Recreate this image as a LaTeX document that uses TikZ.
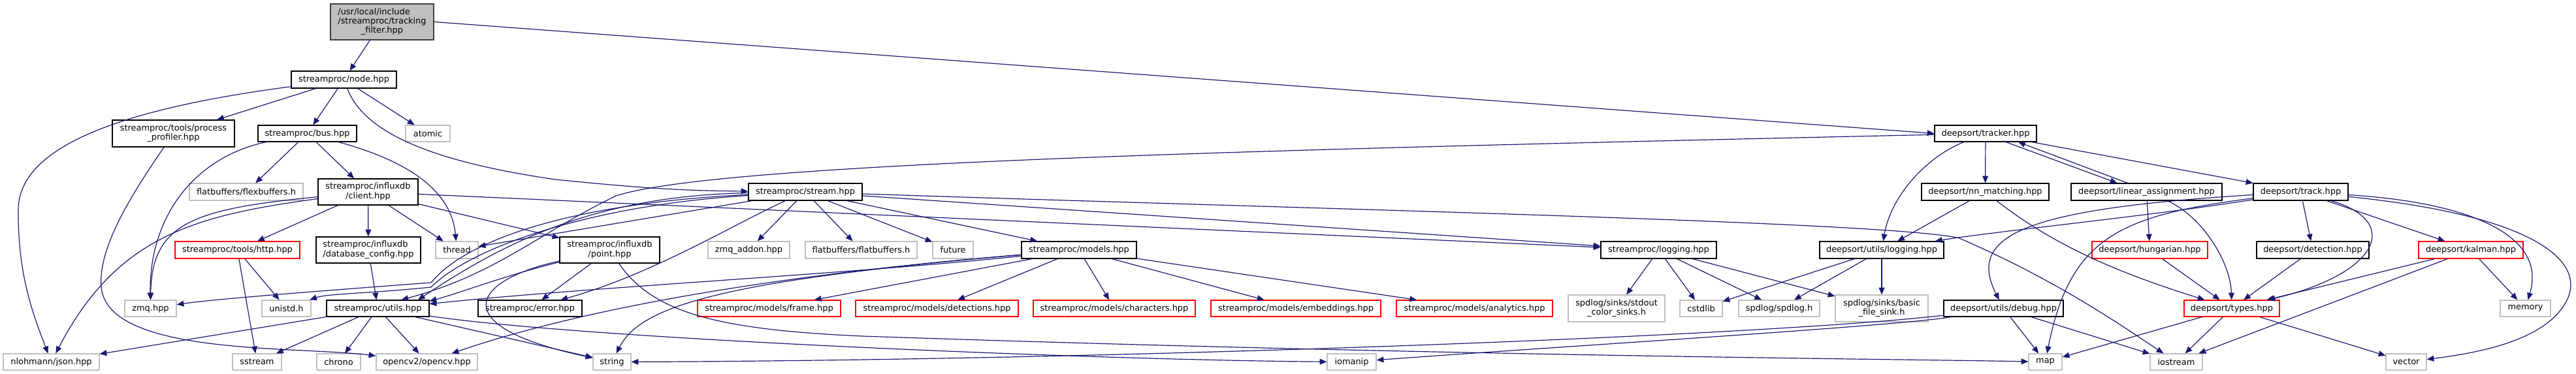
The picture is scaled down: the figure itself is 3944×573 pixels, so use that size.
\documentclass[tikz,border=0pt]{standalone}
\usepackage{fontspec}
\setmainfont{DejaVu Sans}
\usetikzlibrary{arrows.meta,calc}
\definecolor{edgec}{RGB}{25,25,112}
\newcommand\ml[2]{\begin{tabular}{@{}l@{}}#1\\\multicolumn{1}{@{}c@{}}{#2}\end{tabular}}
\newcommand\bx[7]{%
  \pgfmathsetmacro\bxcx{(#2+#4)/2}\pgfmathsetmacro\bxcy{(#3+#5)/2}%
  \pgfmathsetmacro\bxw{#4-#2}\pgfmathsetmacro\bxh{#5-#3}%
  \node[box,#6,minimum width=\bxw*0.25mm,minimum height=\bxh*0.25mm] (#1) at (\bxcx,\bxcy) {#7};}
\begin{document}
\begin{tikzpicture}[x=0.25mm,y=-0.25mm,
  box/.style={font=\fontsize{9.2}{10.2}\selectfont,inner sep=0pt,fill=white,line width=0.8pt},
  dk/.style={draw=black},
  lt/.style={draw=black!25},
  rd/.style={draw=red},
  root/.style={draw=black!75,fill=black!25},
  edge/.style={draw=edgec,line width=0.85pt,-{Triangle[length=2.7mm,width=2.2mm]}}]
\path[use as bounding box] (0,0) rectangle (3944,573);
% nodes
\bx{tf}{506}{6}{664}{61}{root}{\ml{/usr/local/include\\/streamproc/tracking}{\_filter.hpp}}
\bx{node}{446}{109}{607}{135}{dk}{streamproc/node.hpp}
\bx{atomic}{621}{192}{689}{217}{lt}{atomic}
\bx{prof}{172}{184}{359}{225}{dk}{\ml{streamproc/tools/process}{\_profiler.hpp}}
\bx{bus}{395}{192}{546}{217}{dk}{streamproc/bus.hpp}
\bx{flex}{290}{281}{464}{307}{lt}{flatbuffers/flexbuffers.h}
\bx{client}{487}{274}{640}{314}{dk}{\ml{streamproc/influxdb}{/client.hpp}}
\bx{http}{268}{370}{459}{396}{rd}{streamproc/tools/http.hpp}
\bx{dbc}{484}{363}{644}{403}{dk}{\ml{streamproc/influxdb}{/database\_config.hpp}}
\bx{zmq}{191}{460}{270}{485}{lt}{zmq.hpp}
\bx{unistd}{401}{460}{476}{485}{lt}{unistd.h}
\bx{utils}{500}{460}{657}{485}{dk}{streamproc/utils.hpp}
\bx{json}{5}{542}{152}{567}{lt}{nlohmann/json.hpp}
\bx{sstream}{356}{542}{431}{567}{lt}{sstream}
\bx{chrono}{485}{542}{552}{567}{lt}{chrono}
\bx{opencv}{576}{542}{731}{567}{lt}{opencv2/opencv.hpp}
\bx{thread}{667}{370}{732}{396}{lt}{thread}
\bx{point}{857}{363}{1010}{403}{dk}{\ml{streamproc/influxdb}{/point.hpp}}
\bx{error}{732}{460}{891}{485}{dk}{streamproc/error.hpp}
\bx{string}{908}{542}{966}{567}{lt}{string}
\bx{stream}{1146}{281}{1320}{307}{dk}{streamproc/stream.hpp}
\bx{zmqa}{1084}{370}{1209}{396}{lt}{zmq\_addon.hpp}
\bx{flat}{1233}{370}{1404}{396}{lt}{flatbuffers/flatbuffers.h}
\bx{future}{1428}{370}{1490}{396}{lt}{future}
\bx{models}{1564}{370}{1740}{396}{dk}{streamproc/models.hpp}
\bx{frame}{1068}{460}{1287}{485}{rd}{streamproc/models/frame.hpp}
\bx{dets}{1310}{460}{1559}{485}{rd}{streamproc/models/detections.hpp}
\bx{chars}{1582}{460}{1830}{485}{rd}{streamproc/models/characters.hpp}
\bx{embs}{1854}{460}{2114}{485}{rd}{streamproc/models/embeddings.hpp}
\bx{anal}{2138}{460}{2377}{485}{rd}{streamproc/models/analytics.hpp}
\bx{iomanip}{2032}{542}{2107}{567}{lt}{iomanip}
\bx{slog}{2451}{370}{2628}{396}{dk}{streamproc/logging.hpp}
\bx{stdout}{2401}{452}{2549}{493}{lt}{\ml{spdlog/sinks/stdout}{\_color\_sinks.h}}
\bx{cstdlib}{2572}{460}{2637}{485}{lt}{cstdlib}
\bx{tracker}{2962}{192}{3118}{217}{dk}{deepsort/tracker.hpp}
\bx{nn}{2942}{281}{3137}{307}{dk}{deepsort/nn\_matching.hpp}
\bx{la}{3171}{281}{3402}{307}{dk}{deepsort/linear\_assignment.hpp}
\bx{track}{3450}{281}{3595}{307}{dk}{deepsort/track.hpp}
\bx{dlog}{2786}{370}{2976}{396}{dk}{deepsort/utils/logging.hpp}
\bx{spd}{2662}{460}{2786}{485}{lt}{spdlog/spdlog.h}
\bx{bfs}{2810}{452}{2952}{493}{lt}{\ml{spdlog/sinks/basic}{\_file\_sink.h}}
\bx{debug}{2976}{460}{3159}{485}{dk}{deepsort/utils/debug.hpp}
\bx{map}{3106}{542}{3157}{567}{lt}{map}
\bx{hung}{3203}{370}{3380}{396}{rd}{deepsort/hungarian.hpp}
\bx{det}{3455}{370}{3627}{396}{dk}{deepsort/detection.hpp}
\bx{kal}{3703}{370}{3863}{396}{rd}{deepsort/kalman.hpp}
\bx{types}{3344}{460}{3490}{485}{rd}{deepsort/types.hpp}
\bx{memory}{3828}{460}{3905}{485}{lt}{memory}
\bx{iostream}{3292}{542}{3372}{567}{lt}{iostream}
\bx{vector}{3653}{542}{3715}{567}{lt}{vector}
% edges
\draw[edge] (tf) -- (node);
\draw[edge] (tf.east) -- (tracker.west);
\draw[edge] (node) .. controls (200,165) and (30,220) .. (28,320) .. controls (27,420) and (50,480) .. (json);
\draw[edge] (node) -- (prof);
\draw[edge] (node) -- (bus);
\draw[edge] (node) .. controls (560,210) and (680,250) .. (850,275) .. controls (1000,290) and (1050,292) .. (stream);
\draw[edge] (node) -- (atomic);
\draw[edge] (prof) .. controls (200,300) and (150,380) .. (155,440) .. controls (165,545) and (450,530) .. (opencv);
\draw[edge] (bus) .. controls (300,240) and (228,330) .. (zmq);
\draw[edge] (bus) -- (flex);
\draw[edge] (bus) -- (client);
\draw[edge] (bus) .. controls (600,240) and (690,280) .. (thread);
\draw[edge] (client) .. controls (300,330) and (180,360) .. (json);
\draw[edge] (client) .. controls (300,320) and (232,340) .. (zmq);
\draw[edge] (client) -- (http);
\draw[edge] (client) -- (dbc);
\draw[edge] (client) -- (thread);
\draw[edge] (client) -- (point);
\draw[edge] (client) -- (slog);
\draw[edge] (http) -- (sstream);
\draw[edge] (http) -- (unistd);
\draw[edge] (dbc) -- (utils);
\draw[edge] (utils) -- (json);
\draw[edge] (utils) -- (sstream);
\draw[edge] (utils) -- (chrono);
\draw[edge] (utils) -- (opencv);
\draw[edge] (utils) -- (string);
\draw[edge] (utils) .. controls (900,520) and (1700,552) .. (iomanip);
\draw[edge] (point) -- (error);
\draw[edge] (point) .. controls (780,420) and (700,450) .. (utils.8);
\draw[edge] (point) .. controls (720,430) and (680,500) .. (string);
\draw[edge] (point) .. controls (1000,480) and (1100,505) .. (1320,515) .. controls (2200,545) and (2900,550) .. (map);
\draw[edge] (stream) -- (thread);
\draw[edge] (stream) -- (zmqa);
\draw[edge] (stream) -- (flat);
\draw[edge] (stream) -- (future);
\draw[edge] (stream) -- (models);
\draw[edge] (stream) -- (slog);
\draw[edge] (stream) .. controls (1130,340) and (1000,420) .. (error);
\draw[edge] (stream) .. controls (900,300) and (760,380) .. (utils.12);
\draw[edge] (stream) .. controls (900,310) and (720,360) .. (660,433) .. controls (500,445) and (330,458) .. (zmq);
\draw[edge] (stream) .. controls (900,315) and (720,380) .. (660,440) .. controls (560,450) and (500,450) .. (unistd);
\draw[edge] (stream) .. controls (2000,320) and (2900,340) .. (3000,365) .. controls (3150,430) and (3250,500) .. (iostream);
\draw[edge] (tracker) .. controls (1900,230) and (1100,250) .. (943,300) .. controls (820,360) and (760,420) .. (utils.20);
\draw[edge] (models) -- (frame);
\draw[edge] (models) -- (dets);
\draw[edge] (models) -- (chars);
\draw[edge] (models) -- (embs);
\draw[edge] (models) -- (anal);
\draw[edge] (models) .. controls (1300,420) and (900,440) .. (utils.5);
\draw[edge] (models) .. controls (1100,430) and (980,470) .. (string);
\draw[edge] (models) .. controls (1200,420) and (900,470) .. (opencv);
\draw[edge] (slog) -- (stdout);
\draw[edge] (slog) -- (cstdlib);
\draw[edge] (slog) -- (spd);
\draw[edge] (slog) -- (bfs);
\draw[edge] (tracker) .. controls (2950,240) and (2895,300) .. (dlog);
\draw[edge] (tracker) -- (nn);
\draw[edge] ($(tracker.south)+(31,0)$) -- ($(la.north)+(-45,0)$);
\draw[edge] ($(la.north)+(-29,0)$) -- ($(tracker.south)+(50,0)$);
\draw[edge] (tracker) -- (track);
\draw[edge] (nn) -- (dlog);
\draw[edge] (nn) .. controls (3150,380) and (3250,420) .. (types);
\draw[edge] (la) -- (hung);
\draw[edge] (la) .. controls (3370,330) and (3415,400) .. (types);
\draw[edge] (track) -- (det);
\draw[edge] (track) -- (kal);
\draw[edge] (track) .. controls (3680,340) and (3640,420) .. (types);
\draw[edge] (track) .. controls (3780,310) and (3900,360) .. (memory);
\draw[edge] (track) .. controls (3880,330) and (3960,400) .. (3930,460) .. controls (3900,520) and (3800,540) .. (vector);
\draw[edge] (track) .. controls (3300,330) and (3050,355) .. (dlog);
\draw[edge] (track) .. controls (3100,320) and (3010,360) .. (debug);
\draw[edge] (track) .. controls (3250,330) and (3170,360) .. (map);
\draw[edge] (dlog) -- (cstdlib);
\draw[edge] (dlog) -- (spd);
\draw[edge] (dlog) -- (bfs);
\draw[edge] (debug) -- (map);
\draw[edge] (debug) -- (iostream);
\draw[edge] (debug) .. controls (2900,500) and (2400,530) .. (iomanip);
\draw[edge] (debug) .. controls (2700,515) and (1700,552) .. (string);
\draw[edge] (hung) -- (types);
\draw[edge] (det) -- (types);
\draw[edge] (kal) -- (types);
\draw[edge] (kal) -- (iostream);
\draw[edge] (kal) -- (memory);
\draw[edge] (types) -- (iostream);
\draw[edge] (types) -- (vector);
\draw[edge] (types) -- (map);
\end{tikzpicture}
\end{document}
